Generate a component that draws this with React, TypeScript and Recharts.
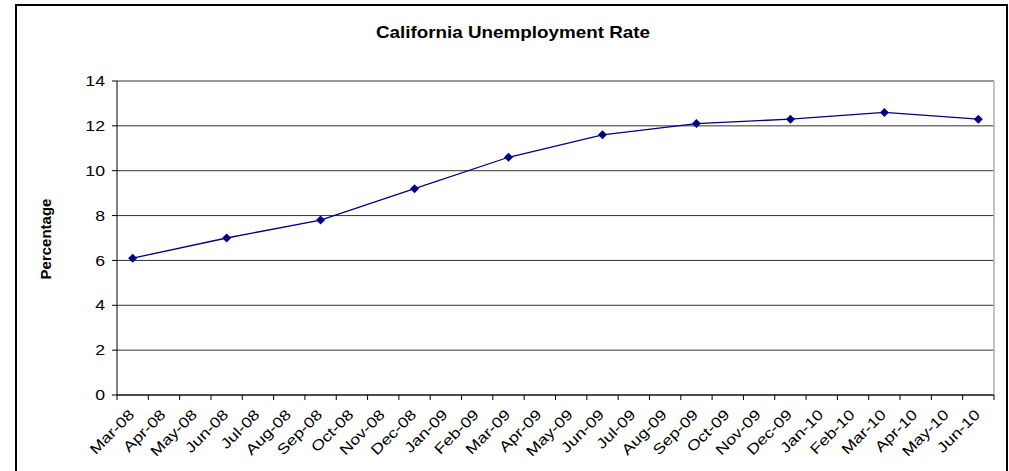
import { ComposedChart, Line, XAxis, YAxis, CartesianGrid } from "recharts"

const months = [
  "Mar-08", "Apr-08", "May-08", "Jun-08", "Jul-08", "Aug-08", "Sep-08", "Oct-08", "Nov-08", "Dec-08",
  "Jan-09", "Feb-09", "Mar-09", "Apr-09", "May-09", "Jun-09", "Jul-09", "Aug-09", "Sep-09", "Oct-09",
  "Nov-09", "Dec-09", "Jan-10", "Feb-10", "Mar-10", "Apr-10", "May-10", "Jun-10",
]
const reportedMonths = ["Mar-08", "Jun-08", "Sep-08", "Dec-08", "Mar-09", "Jun-09", "Sep-09", "Dec-09", "Mar-10", "Jun-10"]
const rates = [6.1, 7.0, 7.8, 9.2, 10.6, 11.6, 12.1, 12.3, 12.6, 12.3]
const yTicks = [0, 2, 4, 6, 8, 10, 12, 14]

const data = months.map((m) => {
  const i = reportedMonths.indexOf(m)
  return { month: m, rate: i >= 0 ? rates[i] : null }
})

const W = 1009
const H = 471
const margin = { top: 81, right: 15, bottom: 16, left: 57 }
const Y_AXIS_W = 60
const X_AXIS_H = 60
const PLOT_W = W - margin.left - Y_AXIS_W - margin.right
const BAND = PLOT_W / months.length
const FONT = "'Liberation Sans', Arial, sans-serif"
const NAVY = "#000080"

const XTick = (props: any) => {
  const { x, y, payload, index } = props
  const half = BAND / 2
  return (
    <g>
      <line x1={x - half} y1={y} x2={x - half} y2={y + 5} stroke="#000" />
      {index === months.length - 1 && <line x1={x + half} y1={y} x2={x + half} y2={y + 5} stroke="#000" />}
      <text
        transform={`translate(${x - 1},${y + 17}) rotate(-45) scale(1.22,1)`}
        textAnchor="end"
        dy="0.35em"
        fontSize={14.5}
        fontFamily={FONT}
        fill="#000"
      >
        {payload.value}
      </text>
    </g>
  )
}

const YTick = (props: any) => {
  const { x, y, payload } = props
  return (
    <text
      transform={`translate(${x},${y}) scale(1.22,1)`}
      textAnchor="end"
      dy="0.35em"
      fontSize={14.5}
      fontFamily={FONT}
      fill="#000"
    >
      {payload.value}
    </text>
  )
}

const Diamond = (props: any) => {
  const { cx, cy, index } = props
  if (cx == null || cy == null) return <g key={index} />
  const r = 4.5
  return <path key={index} d={`M${cx},${cy - r}L${cx + r},${cy}L${cx},${cy + r}L${cx - r},${cy}Z`} fill={NAVY} />
}

export default function App() {
  return (
    <div style={{ position: "absolute", left: 0, top: 0, width: W, height: H, overflow: "hidden", background: "#fff" }}>
      <div style={{ position: "absolute", left: 15, top: 4, width: 989, height: 500, border: "2px solid #000" }} />
      <ComposedChart width={W} height={H} data={data} margin={margin}>
        <CartesianGrid vertical={false} stroke="#333" />
        <CartesianGrid horizontal={false} verticalPoints={[W - margin.right]} stroke="#b0b0b0" strokeWidth={1.5} />
        <XAxis
          dataKey="month"
          type="category"
          scale="band"
          interval={0}
          height={X_AXIS_H}
          tickSize={0}
          tickMargin={0}
          tickLine={false}
          axisLine={{ stroke: "#000" }}
          tick={<XTick />}
        />
        <YAxis
          domain={[0, 14]}
          ticks={yTicks}
          width={Y_AXIS_W}
          tickSize={5}
          tickMargin={7}
          tickLine={{ stroke: "#000" }}
          axisLine={{ stroke: "#000" }}
          tick={<YTick />}
          interval={0}
        />
        <Line
          dataKey="rate"
          type="linear"
          stroke={NAVY}
          strokeWidth={1.3}
          connectNulls
          dot={<Diamond />}
          activeDot={false}
          isAnimationActive={false}
        />
      </ComposedChart>
      <svg width={W} height={H} style={{ position: "absolute", left: 0, top: 0, pointerEvents: "none" }}>
        <text
          x={513}
          y={38}
          textAnchor="middle"
          fontSize={17}
          fontWeight="bold"
          fontFamily={FONT}
          textLength={274}
          lengthAdjust="spacingAndGlyphs"
        >
          California Unemployment Rate
        </text>
        <text
          transform="translate(51,239) rotate(-90)"
          textAnchor="middle"
          fontSize={15}
          fontWeight="bold"
          fontFamily={FONT}
        >
          Percentage
        </text>
      </svg>
    </div>
  )
}
